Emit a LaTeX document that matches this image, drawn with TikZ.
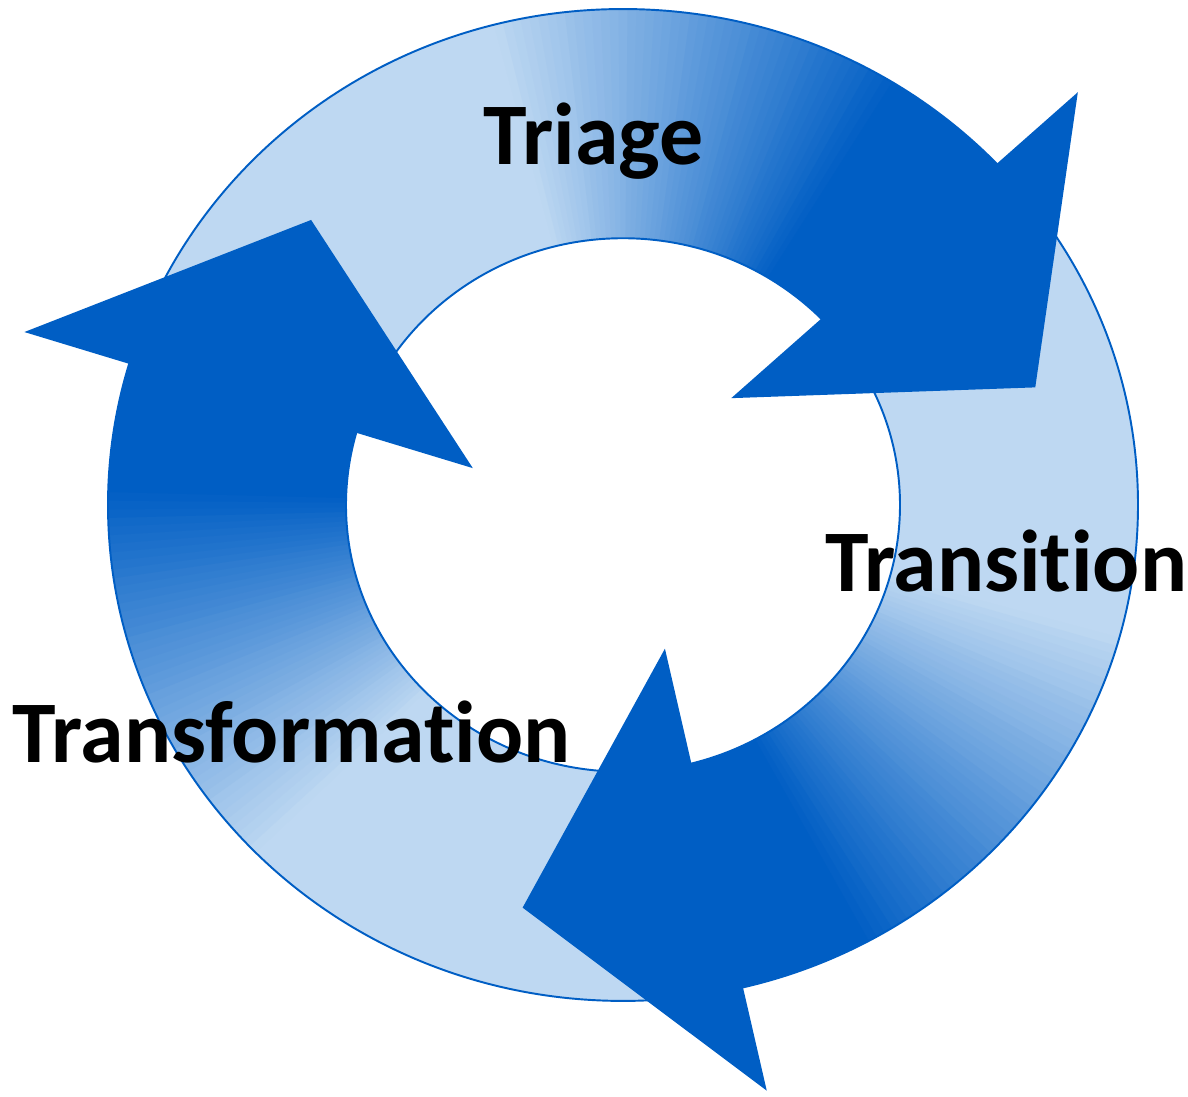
\documentclass[tikz,border=0pt]{standalone}
\usepackage{fontspec}
\setmainfont{Carlito}[Ligatures=NoCommon]
\definecolor{azulosc}{RGB}{0,94,196}
\definecolor{azulcla}{RGB}{190,216,242}
\tikzset{
  punta/.style={fill=azulosc},
  borde/.style={draw=azulosc, line width=1.1pt},
  rotulo/.style={font=\fontsize{50}{60}\selectfont\bfseries, text=black,
    inner sep=0pt, anchor=base west}
}
\begin{document}
\begin{tikzpicture}[x=0.02cm, y=0.02cm]
  \useasboundingbox (0,0) rectangle (1188,1097);
  \begin{scope}[shift={(623,592)}, yscale=0.963]
    % cuerpos de las flechas, de claro a oscuro
    \foreach \b in {44.5,-75.5,164.5} {
      \foreach \i in {0,...,119} {
        \pgfmathsetmacro\ini{\b+118-\i}
        \pgfmathsetmacro\fin{\ini-1.4}
        \pgfmathtruncatemacro\pct{min(100,max(0,(\i/119-0.48)*255))}
        \fill[azulosc!\pct!azulcla] (\ini:515)
          arc[start angle=\ini, end angle=\fin, radius=515] -- (\fin:277)
          arc[start angle=\fin, end angle=\ini, radius=277] -- cycle;
      }
    }
    \draw[borde] (0,0) circle[radius=515];
    \draw[borde] (0,0) circle[radius=277];
    % puntas
    \foreach \b in {44.5,-75.5,164.5}
      \fill[punta] ({\b-1.2}:625) -- ({\b-28}:430) -- ({\b+1.2}:155) -- cycle;
  \end{scope}
  \node[rotulo] (triage) at (483,932) {Triage};
  \node[rotulo] (transition) at (825,505) {Transition};
  \node[rotulo] (transformation) at (12,334) {Transformation};
\end{tikzpicture}
\end{document}
